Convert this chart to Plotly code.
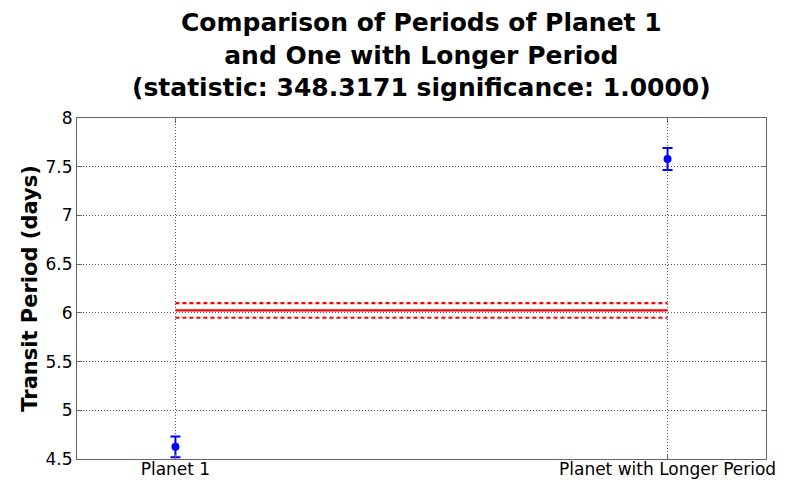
import plotly.graph_objects as go

categories = ["Planet 1", "Planet with Longer Period"]
cat_x = [1, 2]
periods = [4.625, 7.58]
period_err = [0.107, 0.113]
mean_period = 6.025
mean_err = 0.075
yticks = [4.5, 5, 5.5, 6, 6.5, 7, 7.5, 8]
ytick_labels = ["4.5", "5", "5.5", "6", "6.5", "7", "7.5", "8"]
title_text = ("Comparison of Periods of Planet 1<br>and One with Longer Period"
              "<br>(statistic: 348.3171 significance: 1.0000)")

FONT = "DejaVu Sans, Liberation Sans, Arial, sans-serif"

fig = go.Figure()

# red mean line with dashed bounds
fig.add_trace(go.Scatter(x=cat_x, y=[mean_period, mean_period], mode="lines",
                         line=dict(color="#ff0000", width=2.2), showlegend=False))
for v in (mean_period + mean_err, mean_period - mean_err):
    fig.add_trace(go.Scatter(x=cat_x, y=[v, v], mode="lines",
                             line=dict(color="#ff0000", width=2.2, dash="4px,3px"),
                             showlegend=False))

fig.add_trace(go.Scatter(
    x=cat_x, y=periods, mode="markers",
    marker=dict(color="#0000ff", size=8),
    error_y=dict(type="data", array=period_err, color="#0000ff", thickness=2, width=5),
    showlegend=False))

# page body has an 8px margin, so the figure is sized/offset to compensate
fig.update_layout(
    width=780, height=475,
    margin=dict(l=69, r=22, t=110, b=24, autoexpand=False),
    paper_bgcolor="white", plot_bgcolor="white",
    font=dict(family=FONT, color="black"),
)
fig.add_annotation(text="<b>" + title_text + "</b>", x=0.5, xref="paper", xanchor="center",
                   y=1, yref="paper", yanchor="bottom", yshift=14, showarrow=False,
                   font=dict(size=25, family=FONT, color="black"))
axis_common = dict(showgrid=True, gridcolor="#555", griddash="1px,2px", gridwidth=1,
                   zeroline=False, showline=True, linecolor="#666", linewidth=1,
                   mirror="ticks", ticks="inside", ticklen=5, tickcolor="#666",
                   tickfont=dict(size=17), automargin=False)
fig.update_xaxes(range=[0.8, 2.2], tickmode="array", tickvals=cat_x, ticktext=categories,
                 ticklabelstandoff=-5, **axis_common)
fig.update_yaxes(range=[4.5, 8], tickmode="array", tickvals=yticks, ticktext=ytick_labels,
                 title=dict(text="<b>Transit Period (days)</b>", font=dict(size=21), standoff=2),
                 **axis_common)

fig.write_html("out.html")
